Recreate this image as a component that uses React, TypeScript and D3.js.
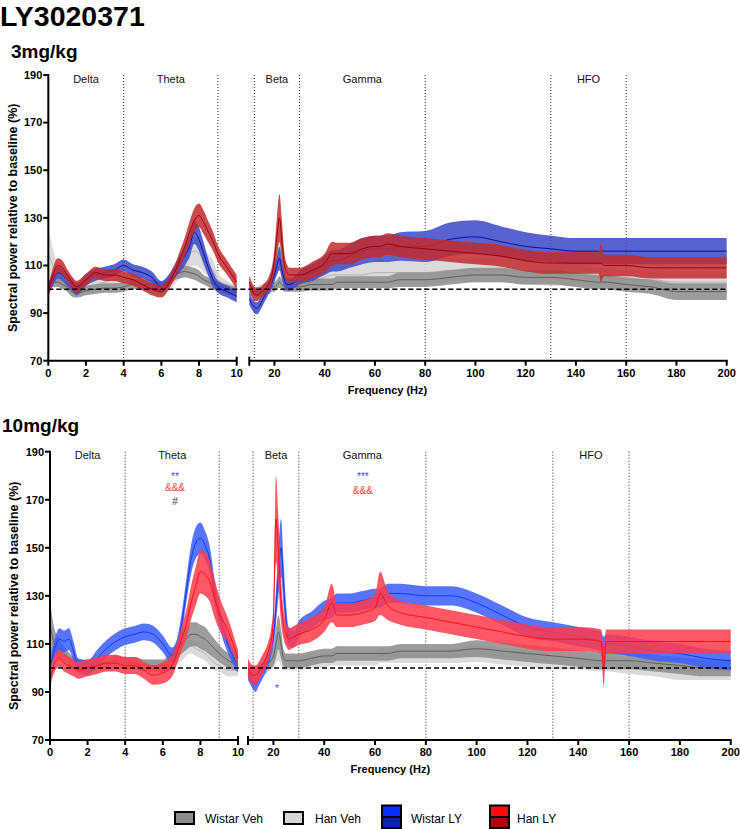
import React from "react";
import * as d3 from "d3";

// ---------------- DATA ----------------
const LEFT_HZ = [0, 0.25, 0.5, 0.75, 1, 1.25, 1.5, 2, 2.5, 3, 3.5, 4, 4.5, 5, 5.5, 6, 6.5, 6.75, 7, 7.25, 7.5, 7.75, 8, 8.25, 8.5, 8.75, 9, 9.5, 10];
const RIGHT_HZ = [10, 11, 12, 13, 14, 15, 16, 17, 18, 19, 20, 21, 22, 23, 24, 25, 26, 28, 30, 35, 40, 43, 45, 50, 55, 60, 62, 65, 70, 80, 90, 100, 110, 120, 130, 140, 149, 150, 151, 160, 170, 180, 190, 200];

const Y_TICKS = [70, 90, 110, 130, 150, 170, 190];
const LEFT_TICKS = [0, 2, 4, 6, 8, 10];
const RIGHT_TICKS = [20, 40, 60, 80, 100, 120, 140, 160, 180, 200];

const BAND_NAMES = ["Delta", "Theta", "Beta", "Gamma", "HFO"];
const BAND_FROM = [0, 4, 12, 30, 130];
const BAND_TO = [4, 9, 30, 80, 160];
const BAND_SEG = ["L", "L", "R", "R", "R"];
const LEFT_DIVIDERS = [4, 9];
const RIGHT_DIVIDERS = [12, 30, 80, 130, 160];

const SERIES_NAMES = ["Wistar Veh", "Han Veh", "Wistar LY", "Han LY"];

// 3 mg/kg — left segment (0–10 Hz)
const wistarVeh3L = [101, 103, 103, 102, 101, 99, 98.5, 99.5, 100, 100.5, 100.5, 101, 102, 102, 102, 101, 104, 106, 107, 107.5, 107, 106.5, 105.5, 104, 103, 102, 101.5, 100, 99];
const wistarVeh3LSem = [2, 2, 2, 2, 2, 2, 2, 2, 2, 2, 2, 2, 2, 2, 2, 2, 2, 2, 2.5, 2.5, 2.5, 2.5, 2.5, 2, 2, 2, 2, 2, 2];
const hanVeh3L = [115, 110, 106, 104, 102, 101, 100, 101, 102, 103, 104, 104, 104, 103, 101, 100, 103, 106, 109, 112, 115, 116, 115, 112, 110, 108, 104, 101, 99];
const hanVeh3LSem = [11, 7, 4, 3, 2.5, 2.5, 2.5, 2.5, 2.5, 2.5, 2.5, 2.5, 2.5, 2.5, 2.5, 2.5, 3, 3.5, 4, 5, 6, 6, 6, 5, 4.5, 4, 3, 2.5, 2.5];
const wistarLY3L = [100, 104, 107, 106, 104, 102, 100, 104, 106, 107, 108, 110, 108, 107, 105, 101, 105, 108, 111, 114, 118, 124, 121, 115, 109, 104, 101, 99, 97];
const wistarLY3LSem = [2.5, 2.5, 2.5, 2.5, 2.5, 2.5, 2.5, 2.5, 2.5, 2.5, 2.5, 2.5, 2.5, 2.5, 2.5, 2.5, 2.5, 3, 3.5, 4, 4.5, 5, 5, 4.5, 3.5, 3, 2.5, 2.5, 2.5];
const hanLY3L = [99, 106, 110, 109, 106, 103, 101, 104, 107, 106, 106, 105, 104, 102, 100, 99, 104, 108, 113, 118, 124, 129, 131, 128, 124, 120, 115, 109, 103];
const hanLY3LSem = [2.5, 3, 3, 3, 2.5, 2.5, 2.5, 2.5, 2.5, 2.5, 2.5, 2.5, 2.5, 2.5, 2.5, 2.5, 2.5, 3, 3.5, 4, 4.5, 5, 5, 5, 4.5, 4, 3.5, 3, 3];

// 3 mg/kg — right segment (10–200 Hz)
const wistarVeh3R = [100, 99, 99, 99, 99, 99, 100, 100, 100, 101, 101, 102, 103, 102, 101, 101, 101, 101, 101, 102, 102, 102, 103, 103, 103, 103, 103, 103, 104, 104, 105, 106, 106, 105, 105, 104, 103, 103, 103, 102, 101, 99, 99, 99];
const wistarVeh3RSem = [2, 2, 2, 2, 2, 2, 2, 2, 2, 2, 2, 2, 2.5, 2, 2, 2, 2, 2, 2, 2.5, 2.5, 2.5, 2.5, 2.5, 2.5, 2.5, 2.5, 2.5, 3, 3, 3, 3, 3, 3, 3, 3, 3, 3, 3, 3, 3, 3.5, 3.5, 3.5];
const hanVeh3R = [100, 100, 99, 99, 100, 100, 101, 102, 103, 105, 108, 112, 116, 110, 105, 103, 102, 102, 102, 103, 105, 106, 106, 106, 106, 107, 107, 107, 107, 107, 108, 108, 108, 107, 106, 106, 105, 105, 105, 104, 104, 103, 103, 103];
const hanVeh3RSem = [2, 2, 2, 2, 2, 2, 2, 2, 2.5, 3, 4, 5, 6, 5, 3, 2.5, 2.5, 2.5, 2.5, 3, 3.5, 4, 4, 4.5, 4.5, 5, 5, 5, 5, 5, 5, 5, 5, 5, 4.5, 4.5, 4, 4, 4, 4, 4, 4, 4, 4];
const wistarLY3R = [96, 94, 92.5, 92, 93, 95, 97, 99, 101, 103, 106, 110, 113, 108, 104, 102, 102, 103, 105, 107, 110, 112, 112, 114, 116, 117, 117, 117, 118, 118, 121, 122, 120, 118, 117, 116, 116, 116, 116, 116, 116, 116, 116, 116];
const wistarLY3RSem = [2.5, 2.5, 2.5, 2.5, 2.5, 2.5, 2.5, 2.5, 2.5, 2.5, 3, 4, 5, 4, 3, 2.5, 2.5, 2.5, 3, 3.5, 4, 4.5, 4.5, 5, 5.5, 5.5, 5.5, 5.5, 6, 6.5, 7, 7, 6.5, 6, 5.5, 5.5, 5.5, 5.5, 5.5, 5.5, 5.5, 5.5, 5.5, 5.5];
const hanLY3R = [103, 100, 98, 97.5, 98, 99, 100, 101, 103, 106, 112, 122, 130, 120, 110, 107, 106, 106, 106, 108, 111, 115, 115, 115, 117, 118, 118, 119, 118, 117, 116, 115, 114, 112, 111, 111, 111, 111, 110, 110, 109, 109, 109, 109];
const hanLY3RSem = [3, 3, 3, 2.5, 2.5, 2.5, 2.5, 2.5, 3, 3.5, 5, 8, 10, 8, 5, 3.5, 3, 3, 3, 3.5, 4, 5, 4.5, 4.5, 4.5, 4.5, 4.5, 4.5, 4.5, 4.5, 4.5, 4.5, 4.5, 4.5, 4.5, 4.5, 4.5, 8, 4.5, 4.5, 4.5, 4.5, 4.5, 4.5];

// 10 mg/kg — left segment
const wistarVeh10L = [118, 110, 108, 106, 104, 102, 101, 101, 102, 102, 103, 102, 102, 101, 101, 101, 104, 107, 110, 112, 114, 114, 113, 112, 110, 108, 106, 103, 101];
const wistarVeh10LSem = [10, 6, 4, 3, 2.5, 2.5, 2.5, 2.5, 2.5, 2.5, 2.5, 2.5, 2.5, 2.5, 2.5, 2.5, 3, 3.5, 4, 4.5, 5, 5, 5, 5, 4.5, 4, 3.5, 3, 2.5];
const hanVeh10L = [103, 106, 107, 105, 103, 101, 99, 100, 101, 101, 102, 102, 102, 101, 101, 100, 102, 104, 106, 108, 109, 108, 107, 106, 104, 102, 101, 99, 99];
const hanVeh10LSem = [3, 3, 3, 3, 2.5, 2.5, 2.5, 2.5, 2.5, 2.5, 2.5, 2.5, 2.5, 2.5, 2.5, 2.5, 2.5, 2.5, 3, 3, 3, 3, 3, 3, 3, 3, 2.5, 2.5, 2.5];
const wistarLY10L = [100, 108, 112, 111, 112, 107, 101, 100, 104, 108, 111, 113, 114, 115, 114, 110, 105, 108, 118, 132, 145, 152, 154, 151, 145, 132, 122, 109, 101];
const wistarLY10LSem = [3, 4, 4.5, 4.5, 4.5, 4, 3, 3, 3.5, 3.5, 3.5, 3.5, 3.5, 3.5, 3.5, 3.5, 3.5, 4, 4.5, 5, 6, 6.5, 6.5, 6, 5.5, 5, 4.5, 3.5, 3];
const hanLY10L = [95, 102, 104, 102, 101, 100, 99, 100, 101, 102, 102, 101, 101, 99, 97, 98, 101, 106, 112, 118, 127, 134, 140, 139, 136, 129, 123, 115, 104];
const hanLY10LSem = [3, 3.5, 3.5, 3.5, 3.5, 3.5, 3.5, 3.5, 3.5, 3.5, 3.5, 3.5, 3.5, 3.5, 4, 4.5, 4.5, 4.5, 5, 6, 7, 8, 9, 9, 8.5, 8, 7, 5, 3.5];

// 10 mg/kg — right segment
const wistarVeh10R = [100, 99, 98, 98, 99, 100, 100, 101, 102, 103, 105, 110, 115, 110, 104, 103, 103, 103, 103, 104, 105, 105, 106, 106, 106, 106, 106, 106, 107, 107, 107, 108, 107, 106, 105, 104, 103, 103, 103, 103, 102, 101, 100, 100];
const wistarVeh10RSem = [2, 2, 2, 2, 2, 2, 2, 2, 2.5, 3, 4, 6, 7, 6, 3.5, 3, 3, 3, 3, 3, 3, 3, 3, 3, 3, 3, 3, 3, 3, 3, 3, 3.5, 3.5, 3.5, 3.5, 3.5, 3.5, 3.5, 3.5, 3.5, 3.5, 3.5, 3.5, 3.5];
const hanVeh10R = [99, 98, 98, 98, 99, 99, 100, 100, 101, 102, 103, 106, 108, 105, 102, 102, 102, 102, 102, 103, 103, 104, 104, 104, 104, 104, 105, 105, 105, 105, 105, 106, 105, 104, 103, 103, 102, 102, 102, 101, 100, 99, 99, 99];
const hanVeh10RSem = [2.5, 2.5, 2.5, 2.5, 2.5, 2.5, 2.5, 2.5, 2.5, 3, 3, 4, 5, 4, 3, 3, 3, 3, 3, 3, 3, 3, 3, 3, 3, 3, 3, 3, 3, 3, 3, 3.5, 3.5, 3.5, 3.5, 3.5, 3.5, 3.5, 3.5, 3.5, 3.5, 4, 4, 4];
const wistarLY10R = [98, 96, 94, 93, 95, 97, 99, 101, 104, 108, 113, 125, 140, 150, 135, 120, 113, 112, 116, 120, 124, 125, 127, 127, 128, 129, 129, 131, 131, 130, 130, 127, 122, 117, 115, 113, 111, 108, 110, 109, 107, 106, 104, 103];
const wistarLY10RSem = [3, 3, 3, 3, 3, 3, 3, 3, 3, 3.5, 4, 7, 10, 12, 9, 6, 4, 3.5, 3.5, 3.5, 4, 4, 4, 4, 4, 4, 4, 4, 4, 4, 4, 4, 4, 4, 4, 4, 4, 5, 4, 4, 4, 4, 4, 4];
const hanLY10R = [100, 98, 97, 97, 98, 100, 102, 104, 107, 111, 120, 162, 148, 128, 118, 114, 112, 113, 114, 116, 120, 127, 122, 122, 123, 125, 131, 126, 123, 121, 119, 117, 115, 113, 112, 112, 111, 100, 111, 111, 111, 111, 111, 111];
const hanLY10RSem = [4, 4, 4, 4, 4, 4, 4, 4, 4, 4.5, 6, 18, 14, 9, 6, 5, 4.5, 4.5, 4.5, 5, 5, 8, 5, 5, 5, 5.5, 9, 6, 5, 5, 5, 5, 5, 5, 5, 5, 5, 8, 5, 5, 5, 5, 5, 5];

// significance marks (10 mg/kg): text, segment, Hz, value-level, colour
const MARK_TEXT = ["**", "&&&", "#", "***", "&&&", "*"];
const MARK_SEG = ["L", "L", "L", "R", "R", "R"];
const MARK_HZ = [6.65, 6.65, 6.65, 55.2, 55.2, 21.4];
const MARK_LEVEL = [178.4, 173.6, 167.8, 178.4, 172.6, 89.8];
const MARK_COLOR = ["#2f4bff", "#ff3b3b", "#333333", "#2f4bff", "#ff3b3b", "#2f4bff"];

// ---------------- STYLE ----------------
const FONT = "'Liberation Sans', Arial, Helvetica, sans-serif";

const TOP_LAYOUT = { yTop: 75, yBottom: 360.7, lx0: 48.3, lx1: 236.7, rx0: 249.3, rx1: 726.7, bandLabelY: 82.7, tickLabelY: 377, titleY: 394 };
const BOT_LAYOUT = { yTop: 451.7, yBottom: 740, lx0: 50, lx1: 238, rx0: 248, rx1: 730.7, bandLabelY: 459, tickLabelY: 756, titleY: 773 };

const VEH_FILL = ["#8c8c8c", "#d5d5d5"];
const VEH_LINE = ["#5e5e5e", "#b3b3b3"];
const LY3_FILL = ["#3b47c9", "#c22a2e"];
const LY3_LINE = ["#0a109e", "#a00008"];
const LY10_FILL = ["#3a5cff", "#ff3a4a"];
const LY10_LINE = ["#1235ff", "#ff1010"];

type Series = { name: string; L: number[]; LS: number[]; R: number[]; RS: number[]; fill: string; line: string };

const TOP_SERIES: Series[] = [
  { name: SERIES_NAMES[1], L: hanVeh3L, LS: hanVeh3LSem, R: hanVeh3R, RS: hanVeh3RSem, fill: VEH_FILL[1], line: VEH_LINE[1] },
  { name: SERIES_NAMES[0], L: wistarVeh3L, LS: wistarVeh3LSem, R: wistarVeh3R, RS: wistarVeh3RSem, fill: VEH_FILL[0], line: VEH_LINE[0] },
  { name: SERIES_NAMES[2], L: wistarLY3L, LS: wistarLY3LSem, R: wistarLY3R, RS: wistarLY3RSem, fill: LY3_FILL[0], line: LY3_LINE[0] },
  { name: SERIES_NAMES[3], L: hanLY3L, LS: hanLY3LSem, R: hanLY3R, RS: hanLY3RSem, fill: LY3_FILL[1], line: LY3_LINE[1] },
];
const BOT_SERIES: Series[] = [
  { name: SERIES_NAMES[1], L: hanVeh10L, LS: hanVeh10LSem, R: hanVeh10R, RS: hanVeh10RSem, fill: VEH_FILL[1], line: VEH_LINE[1] },
  { name: SERIES_NAMES[0], L: wistarVeh10L, LS: wistarVeh10LSem, R: wistarVeh10R, RS: wistarVeh10RSem, fill: VEH_FILL[0], line: VEH_LINE[0] },
  { name: SERIES_NAMES[2], L: wistarLY10L, LS: wistarLY10LSem, R: wistarLY10R, RS: wistarLY10RSem, fill: LY10_FILL[0], line: LY10_LINE[0] },
  { name: SERIES_NAMES[3], L: hanLY10L, LS: hanLY10LSem, R: hanLY10R, RS: hanLY10RSem, fill: LY10_FILL[1], line: LY10_LINE[1] },
];

type Layout = typeof TOP_LAYOUT;

function Panel({ lay, series, marks }: { lay: Layout; series: Series[]; marks: boolean }) {
  const y = d3.scaleLinear().domain([70, 190]).range([lay.yBottom, lay.yTop]);
  const xl = d3.scaleLinear().domain([0, 10]).range([lay.lx0, lay.lx1]);
  const xr = d3.scaleLinear().domain([10, 200]).range([lay.rx0, lay.rx1]);

  const mkArea = (hz: number[], x: d3.ScaleLinear<number, number>, m: number[], s: number[]) =>
    d3.area<number>().x((_, i) => x(hz[i])).y0((_, i) => y(m[i] - s[i])).y1((_, i) => y(m[i] + s[i])).curve(d3.curveMonotoneX)(m) || "";
  const mkLine = (hz: number[], x: d3.ScaleLinear<number, number>, m: number[]) =>
    d3.line<number>().x((_, i) => x(hz[i])).y((d) => y(d)).curve(d3.curveMonotoneX)(m) || "";

  const midX = (lay.lx0 + lay.rx1) / 2;
  const axisW = 2;

  return (
    <g>
      {/* region dividers */}
      {LEFT_DIVIDERS.map((h) => (
        <line key={"ld" + h} x1={xl(h)} x2={xl(h)} y1={lay.yTop} y2={lay.yBottom} stroke="#222" strokeWidth={1} strokeDasharray="1,2" />
      ))}
      {RIGHT_DIVIDERS.map((h) => (
        <line key={"rd" + h} x1={xr(h)} x2={xr(h)} y1={lay.yTop} y2={lay.yBottom} stroke="#222" strokeWidth={1} strokeDasharray="1,2" />
      ))}
      {BAND_NAMES.map((n, i) => {
        const sc = BAND_SEG[i] === "L" ? xl : xr;
        return (
          <text key={n} x={sc((BAND_FROM[i] + BAND_TO[i]) / 2)} y={lay.bandLabelY} fontSize={11} textAnchor="middle" fill="#111">
            {n}
          </text>
        );
      })}

      {/* series bands */}
      {series.map((s) => (
        <g key={s.name}>
          <path d={mkArea(LEFT_HZ, xl, s.L, s.LS)} fill={s.fill} fillOpacity={0.85} />
          <path d={mkArea(RIGHT_HZ, xr, s.R, s.RS)} fill={s.fill} fillOpacity={0.85} />
          <path d={mkLine(LEFT_HZ, xl, s.L)} fill="none" stroke={s.line} strokeWidth={1} />
          <path d={mkLine(RIGHT_HZ, xr, s.R)} fill="none" stroke={s.line} strokeWidth={1} />
        </g>
      ))}

      {/* baseline 100% */}
      <line x1={lay.lx0} x2={lay.rx1} y1={y(100)} y2={y(100)} stroke="#000" strokeWidth={1.6} strokeDasharray="5,3" />

      {/* y axis */}
      <line x1={lay.lx0} x2={lay.lx0} y1={y(190) - 1} y2={y(70) + 1} stroke="#000" strokeWidth={axisW} />
      {Y_TICKS.map((t) => (
        <g key={"yt" + t}>
          <line x1={lay.lx0 - 5} x2={lay.lx0} y1={y(t)} y2={y(t)} stroke="#000" strokeWidth={axisW} />
          <text x={lay.lx0 - 6} y={y(t)} dy="0.35em" fontSize={11} fontWeight="bold" textAnchor="end">
            {t}
          </text>
        </g>
      ))}
      <text
        transform={`translate(${lay.lx0 - 36},${(lay.yTop + lay.yBottom) / 2}) rotate(-90)`}
        fontSize={12.5}
        fontWeight="bold"
        textAnchor="middle"
        dy="0.35em"
      >
        Spectral power relative to baseline (%)
      </text>

      {/* x axis left segment */}
      <line x1={lay.lx0 - 1} x2={lay.lx1} y1={lay.yBottom} y2={lay.yBottom} stroke="#000" strokeWidth={axisW} />
      {LEFT_TICKS.map((t) => (
        <g key={"lt" + t}>
          <line x1={xl(t)} x2={xl(t)} y1={t === 10 ? lay.yBottom - 4 : lay.yBottom} y2={lay.yBottom + 5} stroke="#000" strokeWidth={axisW} />
          <text x={xl(t)} y={lay.tickLabelY} fontSize={11} fontWeight="bold" textAnchor="middle">
            {t}
          </text>
        </g>
      ))}
      {/* x axis right segment */}
      <line x1={lay.rx0} x2={lay.rx1 + 1} y1={lay.yBottom} y2={lay.yBottom} stroke="#000" strokeWidth={axisW} />
      <line x1={xr(10)} x2={xr(10)} y1={lay.yBottom - 4} y2={lay.yBottom + 5} stroke="#000" strokeWidth={axisW} />
      {RIGHT_TICKS.map((t) => (
        <g key={"rt" + t}>
          <line x1={xr(t)} x2={xr(t)} y1={lay.yBottom} y2={lay.yBottom + 5} stroke="#000" strokeWidth={axisW} />
          <text x={xr(t)} y={lay.tickLabelY} fontSize={11} fontWeight="bold" textAnchor="middle">
            {t}
          </text>
        </g>
      ))}
      <text x={midX} y={lay.titleY} fontSize={11} fontWeight="bold" textAnchor="middle">
        Frequency (Hz)
      </text>

      {marks &&
        MARK_TEXT.map((m, i) => (
          <text
            key={"mk" + i}
            x={(MARK_SEG[i] === "L" ? xl : xr)(MARK_HZ[i])}
            y={y(MARK_LEVEL[i])}
            fontSize={10}
            textAnchor="middle"
            fill={MARK_COLOR[i]}
          >
            {m}
          </text>
        ))}
    </g>
  );
}

const LEGEND_X = [175, 284, 382, 490];
const LEGEND_TEXT_X = [205, 315, 411, 517];

function Legend() {
  const yc = 818;
  return (
    <g>
      {/* Wistar Veh */}
      <rect x={LEGEND_X[0]} y={yc - 6} width={19} height={12} fill={VEH_FILL[0]} stroke="#000" strokeWidth={2} />
      {/* Han Veh */}
      <rect x={LEGEND_X[1]} y={yc - 6} width={19} height={12} fill={VEH_FILL[1]} stroke="#000" strokeWidth={2} />
      {/* Wistar LY: bright (10 mg) over dark (3 mg) */}
      <rect x={LEGEND_X[2]} y={yc - 12.5} width={19} height={11.5} fill="#0a2cff" stroke="#000" strokeWidth={2} />
      <rect x={LEGEND_X[2]} y={yc - 1} width={19} height={11} fill="#0a22b0" stroke="#000" strokeWidth={2} />
      {/* Han LY */}
      <rect x={LEGEND_X[3]} y={yc - 12.5} width={19} height={11.5} fill="#ff0a0a" stroke="#000" strokeWidth={2} />
      <rect x={LEGEND_X[3]} y={yc - 1} width={19} height={11} fill="#b00000" stroke="#000" strokeWidth={2} />
      {SERIES_NAMES.map((n, i) => (
        <text key={n} x={LEGEND_TEXT_X[i]} y={yc + 4.5} fontSize={12}>
          {n}
        </text>
      ))}
    </g>
  );
}

export default function App() {
  const W = 740;
  const H = 829;
  return (
    <svg
      width={W}
      height={H}
      style={{ position: "absolute", left: 0, top: 0, fontFamily: FONT }}
      fontFamily={FONT}
    >
      <rect width={W} height={H} fill="#fff" />
      <text x={0} y={26} fontSize={28.5} fontWeight="bold">
        LY3020371
      </text>
      <text x={11} y={58} fontSize={19} fontWeight="bold">
        3mg/kg
      </text>
      <text x={2} y={432} fontSize={19} fontWeight="bold">
        10mg/kg
      </text>
      <Panel lay={TOP_LAYOUT} series={TOP_SERIES} marks={false} />
      <Panel lay={BOT_LAYOUT} series={BOT_SERIES} marks={true} />
      <Legend />
    </svg>
  );
}
